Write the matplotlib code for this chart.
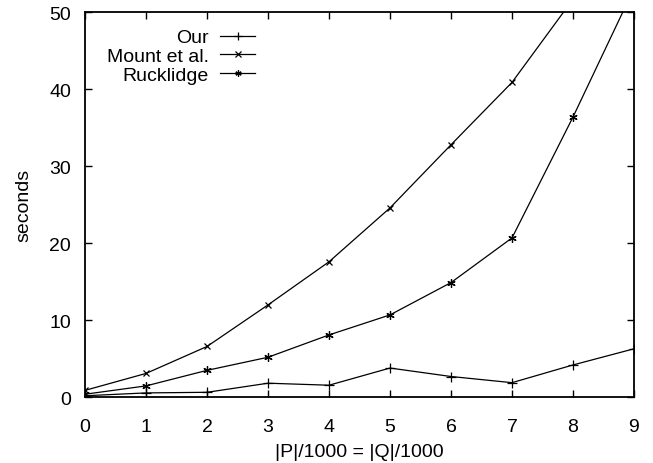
import matplotlib
matplotlib.use("Agg")
import matplotlib.pyplot as plt

plt.rcParams['font.family'] = ['Liberation Sans', 'DejaVu Sans']

x = [0, 1, 2, 3, 4, 5, 6, 7, 8, 9]
our = [0.2, 0.57, 0.65, 1.83, 1.57, 3.8, 2.7, 1.9, 4.2, 6.3]
mount = [0.9, 3.1, 6.6, 12.0, 17.6, 24.6, 32.8, 40.9, 51.7]
ruck = [0.4, 1.48, 3.5, 5.2, 8.1, 10.7, 14.9, 20.7, 36.4, 53.1]

fs = 14

fig = plt.figure(figsize=(6.53, 4.64), dpi=100)
ax = fig.add_axes([0.1302, 0.1416, 0.8407, 0.8297])

ax.plot(x, our, color='black', lw=0.9, marker='+', ms=7, mew=0.9, label='Our')
ax.plot(x[:len(mount)], mount, color='black', lw=0.9, marker='x', ms=5, mew=0.9, label='Mount et al.')
ax.plot(x, ruck, color='black', lw=0.9, marker=(6, 2, 0), ms=6, mew=0.9, label='Rucklidge')

ax.set_xlim(0, 9)
ax.set_ylim(0, 50)
ax.set_xticks(range(0, 10))
ax.set_yticks(range(0, 51, 10))
ax.tick_params(direction='in', top=True, right=True, length=5, width=1, labelsize=fs)
ax.tick_params(axis='x', pad=15)
ax.tick_params(axis='y', pad=10)
for s in ax.spines.values():
    s.set_linewidth(1.3)

ax.set_xlabel('|P|/1000 = |Q|/1000', fontsize=fs, labelpad=6)
ax.set_ylabel('seconds', fontsize=fs, labelpad=12)

leg = ax.legend(loc='upper right', bbox_to_anchor=(0.31, 0.957), frameon=False, markerfirst=False,
                fontsize=fs, handlelength=1.8, handletextpad=0.6, labelspacing=0.05,
                borderaxespad=0.0, borderpad=0.0, markerscale=0.75)

fig.savefig('out.png', dpi=100)
